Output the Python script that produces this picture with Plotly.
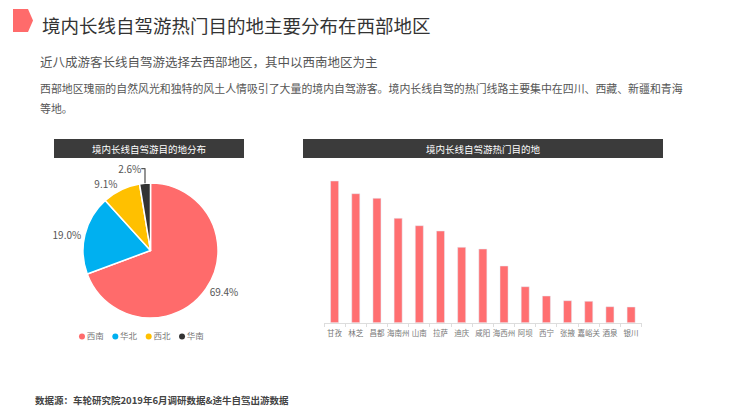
import plotly.graph_objects as go

W, H = 740, 411

# ---------------- data ----------------
pie_labels = ["西南", "华北", "西北", "华南"]
pie_values = [69.4, 19.0, 9.1, 2.6]
pie_colors = ["#ff6b6b", "#00b0f0", "#ffc000", "#333333"]

bar_cats = ["甘孜", "林芝", "昌都", "海南州", "山南", "拉萨", "迪庆", "咸阳",
            "海西州", "阿坝", "西宁", "张掖", "嘉峪关", "酒泉", "银川"]
bar_vals = [141.7, 129.0, 124.4, 104.4, 97.0, 91.7, 75.4, 73.7,
            56.7, 36.0, 26.7, 22.0, 21.4, 16.0, 15.7]

title = "境内长线自驾游热门目的地主要分布在西部地区"
subtitle = "近八成游客长线自驾游选择去西部地区，其中以西南地区为主"
para1 = "西部地区瑰丽的自然风光和独特的风土人情吸引了大量的境内自驾游客。境内长线自驾的热门线路主要集中在四川、西藏、新疆和青海"
para2 = "等地。"
pie_title = "境内长线自驾游目的地分布"
bar_title = "境内长线自驾游热门目的地"
source = "数据源：车轮研究院2019年6月调研数据&途牛自驾出游数据"

FONT = "Noto Sans CJK SC"


def px(x):
    return x / W


def py(y):
    return 1 - y / H


fig = go.Figure()

# Pie
fig.add_trace(go.Pie(
    labels=pie_labels, values=pie_values, sort=False, direction="clockwise",
    marker=dict(colors=pie_colors, line=dict(color="white", width=1.5)),
    texttemplate="%{value:.1f}%", textposition="outside",
    textfont=dict(size=10, color="#555", family=FONT),
    domain=dict(x=[px(83), px(218)], y=[py(318), py(183)]),
    showlegend=False, hoverinfo="label+value",
))

# Legend drawn as a marker row on a hidden axis
fig.add_trace(go.Scatter(
    x=pie_labels, y=[0] * len(pie_labels), mode="markers+text",
    marker=dict(color=pie_colors, size=6, symbol="circle"),
    text=pie_labels, textposition="middle right",
    textfont=dict(size=8.5, color="#777", family=FONT),
    xaxis="x2", yaxis="y2", showlegend=False, cliponaxis=False,
))

# Bars
fig.add_trace(go.Bar(
    x=bar_cats, y=bar_vals, marker=dict(color="#ff6f71"), width=0.38,
    showlegend=False,
))

fig.update_layout(
    width=W, height=H, margin=dict(l=0, r=0, t=0, b=0),
    paper_bgcolor="white", plot_bgcolor="white",
    font=dict(family=FONT),
    xaxis=dict(domain=[px(324), px(641.7)], type="category",
               showline=True, linecolor="#dddddd", linewidth=1,
               ticks="outside", tickson="boundaries", ticklen=3, tickcolor="#dddddd",
               tickangle=0, automargin=False, ticklabelstandoff=3,
               tickfont=dict(size=7.5, color="#777", family=FONT),
               showgrid=False, zeroline=False, fixedrange=True),
    yaxis=dict(domain=[py(322.7), py(172.7)], range=[0, 150], visible=False,
               showgrid=False, zeroline=False),
    xaxis2=dict(domain=[px(65.3), px(198.7)], type="category", visible=False,
                anchor="y2", range=[-0.5, 3.5]),
    yaxis2=dict(domain=[py(342), py(331)], visible=False, anchor="x2", range=[-1, 1]),
)

shapes = []
# red pentagon marker
shapes.append(dict(
    type="path", xref="paper", yref="paper",
    path=f"M {px(13)},{py(9)} L {px(28)},{py(9)} L {px(33)},{py(20.5)} L {px(28)},{py(32)} L {px(13)},{py(32)} Z",
    fillcolor="#ff6b6b", line=dict(width=0),
))
# header boxes
shapes.append(dict(type="rect", xref="paper", yref="paper",
                   x0=px(54), x1=px(244), y0=py(158), y1=py(139),
                   fillcolor="#3b3b3b", line=dict(width=0)))
shapes.append(dict(type="rect", xref="paper", yref="paper",
                   x0=px(303), x1=px(663), y0=py(158), y1=py(139),
                   fillcolor="#3b3b3b", line=dict(width=0)))
fig.update_layout(shapes=shapes)

ann = []


def text(x, y, s, size, color, xanchor="left", bold=False):
    ann.append(dict(x=px(x), y=py(y), xref="paper", yref="paper", text=(f"<b>{s}</b>" if bold else s),
                    showarrow=False, xanchor=xanchor, yanchor="middle",
                    font=dict(size=size, color=color, family=FONT)))


text(40, 25, title, 18.5, "#333333")
text(38, 61, subtitle, 12.5, "#555555")
text(38, 87.5, para1, 10.9, "#555555")
text(38, 108.5, para2, 10.9, "#555555")
text(149, 148.5, pie_title, 9.5, "#ffffff", xanchor="center")
text(483, 148.5, bar_title, 9.5, "#ffffff", xanchor="center")
text(33, 400, source, 9.5, "#444444", bold=True)
fig.update_layout(annotations=ann)

fig.write_html("out.html", config={"displayModeBar": False},
               post_script="document.body.style.margin='0';document.body.style.padding='0';")
